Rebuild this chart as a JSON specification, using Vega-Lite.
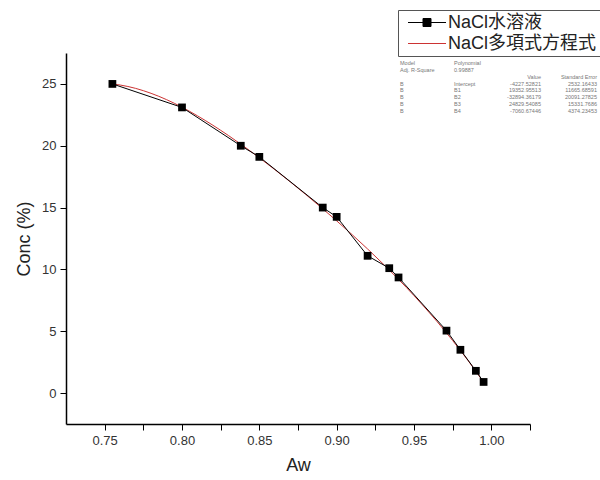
{
  "$schema": "https://vega.github.io/schema/vega-lite/v6.json",
  "width": 464,
  "height": 371,
  "autosize": {"type": "none"},
  "padding": {"left": 66, "top": 53, "right": 70, "bottom": 56},
  "background": "white",
  "config": {"view": {"stroke": null}, "font": "Liberation Sans"},
  "datasets": {
    "obs": [
      {"series": "NaCl水溶液", "Aw": 0.755, "Conc": 25.0},
      {"series": "NaCl水溶液", "Aw": 0.800, "Conc": 23.1},
      {"series": "NaCl水溶液", "Aw": 0.838, "Conc": 20.0},
      {"series": "NaCl水溶液", "Aw": 0.850, "Conc": 19.1},
      {"series": "NaCl水溶液", "Aw": 0.891, "Conc": 15.0},
      {"series": "NaCl水溶液", "Aw": 0.900, "Conc": 14.25},
      {"series": "NaCl水溶液", "Aw": 0.920, "Conc": 11.1},
      {"series": "NaCl水溶液", "Aw": 0.934, "Conc": 10.1},
      {"series": "NaCl水溶液", "Aw": 0.940, "Conc": 9.35},
      {"series": "NaCl水溶液", "Aw": 0.971, "Conc": 5.05},
      {"series": "NaCl水溶液", "Aw": 0.980, "Conc": 3.5},
      {"series": "NaCl水溶液", "Aw": 0.990, "Conc": 1.8},
      {"series": "NaCl水溶液", "Aw": 0.995, "Conc": 0.9}
    ],
    "fit": [
      {"series": "NaCl多項式方程式", "Aw": 0.755, "Conc": 24.99},
      {"series": "NaCl多項式方程式", "Aw": 0.76, "Conc": 24.91},
      {"series": "NaCl多項式方程式", "Aw": 0.77, "Conc": 24.64},
      {"series": "NaCl多項式方程式", "Aw": 0.78, "Conc": 24.24},
      {"series": "NaCl多項式方程式", "Aw": 0.79, "Conc": 23.73},
      {"series": "NaCl多項式方程式", "Aw": 0.81, "Conc": 22.42},
      {"series": "NaCl多項式方程式", "Aw": 0.83, "Conc": 20.83},
      {"series": "NaCl多項式方程式", "Aw": 0.85, "Conc": 19.03},
      {"series": "NaCl多項式方程式", "Aw": 0.87, "Conc": 17.08},
      {"series": "NaCl多項式方程式", "Aw": 0.89, "Conc": 15.01},
      {"series": "NaCl多項式方程式", "Aw": 0.91, "Conc": 12.81},
      {"series": "NaCl多項式方程式", "Aw": 0.93, "Conc": 10.45},
      {"series": "NaCl多項式方程式", "Aw": 0.95, "Conc": 7.88},
      {"series": "NaCl多項式方程式", "Aw": 0.97, "Conc": 5.02},
      {"series": "NaCl多項式方程式", "Aw": 0.99, "Conc": 1.76},
      {"series": "NaCl多項式方程式", "Aw": 0.995, "Conc": 0.86}
    ],
    "table": [
      {"r": 0, "col": "label", "t": "Model"},
      {"r": 0, "col": "term", "t": "Polynomial"},
      {"r": 1, "col": "label", "t": "Adj. R-Square"},
      {"r": 1, "col": "term", "t": "0.99887"},
      {"r": 2, "col": "value", "t": "Value"},
      {"r": 2, "col": "error", "t": "Standard Error"},
      {"r": 3, "col": "label", "t": "B"},
      {"r": 3, "col": "term", "t": "Intercept"},
      {"r": 3, "col": "value", "t": "-4227.52821"},
      {"r": 3, "col": "error", "t": "2532.16433"},
      {"r": 4, "col": "label", "t": "B"},
      {"r": 4, "col": "term", "t": "B1"},
      {"r": 4, "col": "value", "t": "19352.95513"},
      {"r": 4, "col": "error", "t": "11665.68591"},
      {"r": 5, "col": "label", "t": "B"},
      {"r": 5, "col": "term", "t": "B2"},
      {"r": 5, "col": "value", "t": "-32894.36179"},
      {"r": 5, "col": "error", "t": "20091.27825"},
      {"r": 6, "col": "label", "t": "B"},
      {"r": 6, "col": "term", "t": "B3"},
      {"r": 6, "col": "value", "t": "24829.54085"},
      {"r": 6, "col": "error", "t": "15331.7686"},
      {"r": 7, "col": "label", "t": "B"},
      {"r": 7, "col": "term", "t": "B4"},
      {"r": 7, "col": "value", "t": "-7060.67446"},
      {"r": 7, "col": "error", "t": "4374.23453"}
    ]
  },
  "layer": [
    {
      "layer": [
        {
          "mark": {"type": "rect", "fill": "white", "stroke": "#bbbbbb", "strokeWidth": 0.8},
          "encoding": {
            "x": {"datum": 0.9398, "type": "quantitative", "scale": {"domain": [0.725, 1.025], "nice": false, "zero": false}},
            "x2": {"datum": 1.0704},
            "y": {"datum": 27.1, "type": "quantitative"},
            "y2": {"datum": 22.33}
          }
        },
        {
          "data": {"name": "fit"},
          "mark": {"type": "line", "interpolate": "monotone", "strokeWidth": 1},
          "encoding": {
            "x": {"field": "Aw", "type": "quantitative"},
            "y": {"field": "Conc", "type": "quantitative"},
            "color": {"field": "series", "type": "nominal"}
          }
        },
        {
          "data": {"name": "obs"},
          "mark": {"type": "line", "strokeWidth": 1},
          "encoding": {
            "x": {"field": "Aw", "type": "quantitative"},
            "y": {"field": "Conc", "type": "quantitative"},
            "color": {
              "field": "series",
              "type": "nominal",
              "scale": {"domain": ["NaCl水溶液", "NaCl多項式方程式"], "range": ["#000000", "#cc3333"]},
              "legend": {
                "title": null,
                "orient": "none",
                "legendX": 332,
                "legendY": -43,
                "symbolType": "M-3.8,0H3.8M-0.8,-0.8H0.8V0.8H-0.8Z",
                "symbolSize": 100,
                "symbolStrokeWidth": 1,
                "symbolOffset": 16.5,
                "labelOffset": 12,
                "labelFontSize": 18,
                "labelFont": "Liberation Sans, Noto Sans CJK TC",
                "labelColor": "#222222",
                "labelLimit": 300,
                "strokeColor": "#555555",
                "fillColor": "white",
                "padding": 3.5,
                "rowPadding": 3,
                "encode": {
                  "symbols": {
                    "update": {
                      "shape": {"signal": "datum.value == 'NaCl水溶液' ? 'M-3.8,0H3.8M-0.8,-0.8H0.8V0.8H-0.8Z' : 'M-3.8,0H3.8'"},
                      "fill": {"signal": "datum.value == 'NaCl水溶液' ? '#000000' : 'transparent'"}
                    }
                  }
                }
              }
            }
          }
        },
        {
          "data": {"name": "obs"},
          "mark": {"type": "square", "size": 60, "filled": true, "color": "#000000", "opacity": 1},
          "encoding": {
            "x": {
              "field": "Aw",
              "type": "quantitative",
              "title": "Aw",
              "axis": {
                "values": [0.75, 0.775, 0.8, 0.825, 0.85, 0.875, 0.9, 0.925, 0.95, 0.975, 1.0, 1.025],
                "labelExpr": "abs(datum.value*20 - round(datum.value*20)) < 0.01 && datum.value < 1.01 ? format(datum.value, '.2f') : ''",
                "tickSize": 6,
                "labelOverlap": false,
                "grid": false,
                "domainColor": "#000000",
                "domainWidth": 1.5,
                "tickColor": "#000000",
                "tickWidth": 1,
                "labelFontSize": 13,
                "labelColor": "#333333",
                "labelPadding": 4,
                "labelFlush": false,
                "titleFontSize": 18,
                "titleFontWeight": "normal",
                "titleColor": "#222222",
                "titlePadding": 9,
                "encode": {
                  "ticks": {
                    "update": {
                      "y2": {"signal": "abs(datum.value*20 - round(datum.value*20)) > 0.01 ? 3 : 6"}
                    }
                  }
                }
              }
            },
            "y": {
              "field": "Conc",
              "type": "quantitative",
              "title": "Conc (%)",
              "scale": {"domain": [-2.5, 27.5], "nice": false, "zero": false},
              "axis": {
                "values": [0, 2.5, 5, 7.5, 10, 12.5, 15, 17.5, 20, 22.5, 25, 27.5],
                "labelExpr": "datum.value % 5 == 0 ? format(datum.value, 'd') : ''",
                "tickSize": 6,
                "labelOverlap": false,
                "grid": false,
                "domainColor": "#000000",
                "domainWidth": 1.5,
                "tickColor": "#000000",
                "tickWidth": 1,
                "labelFontSize": 13,
                "labelColor": "#333333",
                "labelPadding": 4,
                "labelFlush": false,
                "titleFontSize": 18,
                "titleFontWeight": "normal",
                "titleColor": "#222222",
                "titlePadding": 8,
                "encode": {
                  "ticks": {
                    "update": {
                      "x2": {"signal": "datum.value % 5 != 0 ? -3 : -6"}
                    }
                  }
                }
              }
            }
          }
        }
      ]
    },
    {
      "data": {"name": "table"},
      "layer": [
        {
          "transform": [{"filter": "datum.col == 'label' || datum.col == 'term'"}],
          "mark": {"type": "text", "align": "left", "baseline": "middle", "fontSize": 5.5, "color": "#777777"},
          "encoding": {
            "x": {"field": "col", "type": "nominal", "scale": {"type": "point", "domain": ["label", "term"], "range": [334, 388], "padding": 0}, "axis": null},
            "y": {"field": "r", "type": "ordinal", "scale": {"type": "point", "domain": [0, 1, 2, 3, 4, 5, 6, 7], "range": [10, 58], "padding": 0}, "axis": null},
            "text": {"field": "t"}
          }
        },
        {
          "transform": [{"filter": "datum.col == 'value' || datum.col == 'error'"}],
          "mark": {"type": "text", "align": "right", "baseline": "middle", "fontSize": 5.5, "color": "#777777"},
          "encoding": {
            "x": {"field": "col", "type": "nominal", "scale": {"type": "point", "domain": ["value", "error"], "range": [475, 531], "padding": 0}, "axis": null},
            "y": {"field": "r", "type": "ordinal", "axis": null},
            "text": {"field": "t"}
          }
        }
      ],
      "resolve": {"scale": {"x": "independent"}}
    }
  ],
  "resolve": {"scale": {"x": "independent", "y": "independent"}}
}
